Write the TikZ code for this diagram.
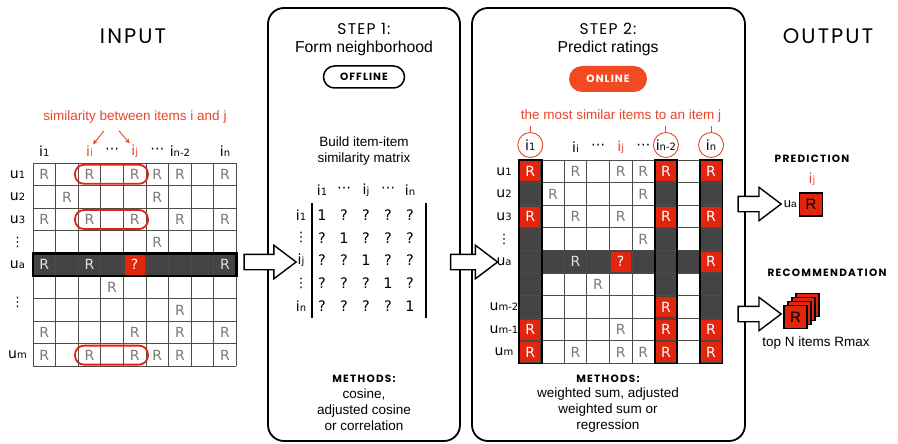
\documentclass[tikz,border=0pt]{standalone}
\usepackage{fontspec}
\setmainfont{Liberation Sans}
\newfontfamily\headfont{Poppins}
\newfontfamily\cellfont{DejaVu Sans}
\usepackage{xcolor}
\usetikzlibrary{arrows.meta,positioning,shapes.arrows}
\definecolor{hired}{HTML}{E2250C}
\definecolor{txtred}{HTML}{E8452C}
\definecolor{pillred}{HTML}{F24A22}
\definecolor{darkcell}{HTML}{444444}
\definecolor{rgray}{HTML}{7A7A7A}
\newcommand{\idx}[2]{#1{\fontsize{10}{10}\selectfont#2}}
\newcommand{\vd}{{\fontsize{13}{13}\selectfont ⋮}}
\newcommand{\hd}{{\fontsize{14}{14}\selectfont ⋯}}

\begin{document}
\begin{tikzpicture}[x=1pt, y=-1pt,
  bigtitle/.style={font=\headfont\addfontfeatures{LetterSpace=10}\fontsize{21}{24}\selectfont},
  stephead/.style={font=\headfont\addfontfeatures{LetterSpace=8}\fontsize{15.5}{18}\selectfont},
  smallhead/.style={font=\headfont\bfseries\addfontfeatures{LetterSpace=12}\fontsize{10.5}{12}\selectfont},
  plain/.style={font=\fontsize{15.8}{18}\selectfont},
  note/.style={font=\fontsize{13.5}{16}\selectfont, align=center},
  rednote/.style={note, text=txtred},
  panel/.style={draw, line width=1.8pt, rounded corners=16pt},
  pill/.style={draw, line width=1.5pt, rounded corners=11pt, minimum width=81pt, minimum height=22pt, inner sep=0pt, font=\headfont\bfseries\addfontfeatures{LetterSpace=10}\fontsize{10.5}{12}\selectfont},
  gridline/.style={draw=black!70, line width=0.7pt},
  lbl/.style={font=\cellfont\fontsize{14}{14}\selectfont, inner sep=1pt},
  entry/.style={font=\cellfont\fontsize{14.5}{15}\selectfont, inner sep=0pt},
  rmark/.style={font=\cellfont\fontsize{14}{14}\selectfont, text=rgray, inner sep=0pt},
  redr/.style={rmark, fill=hired, text=white, minimum size=20pt},
  pair/.style={draw=hired, line width=1.8pt, rounded corners=9pt, minimum width=73pt, minimum height=19pt},
  hcirc/.style={lbl, circle, draw=txtred, line width=0.9pt, minimum size=25pt, inner sep=0pt},
  outbox/.style={draw, line width=1.2pt, fill=hired, minimum size=23pt, inner sep=0pt, font=\fontsize{15}{15}\selectfont},
  bigarrow/.style={single arrow, draw, line width=1.4pt, fill=white, inner xsep=0pt, inner ysep=7pt, single arrow head extend=9pt, single arrow tip angle=74},
  redarrow/.style={-{Stealth[length=5pt,width=4.5pt]}, draw=txtred, line width=0.9pt}
]
\useasboundingbox (0,0) rectangle (898,444);

\node[bigtitle] (input) at (133,36) {INPUT};
\node[bigtitle] (output) at (828,36) {OUTPUT};

\node[panel, minimum width=192pt, minimum height=433pt] (step1) at (364,224.5) {};
\node[panel, minimum width=273pt, minimum height=433pt] (step2) at (608.5,224.5) {};

\fill[darkcell] (33,253.4) rectangle (236.4,276);
\foreach \k in {0,...,9} {
  \draw[gridline] ({33+22.6*\k},163) -- ({33+22.6*\k},366.4);
  \draw[gridline] (33,{163+22.6*\k}) -- (236.4,{163+22.6*\k});
}
\draw[line width=2.4pt] (33,253.4) rectangle (236.4,276);
\foreach \r/\cols in {1/{1,3,5,6,7,9},2/{2,6},3/{1,3,5,7,9},4/{6},6/{4},7/{7},8/{1,5,7,9},9/{1,3,5,6,7,9}}
  \foreach \c in \cols
    \node[rmark] (L-\r-\c) at ({22.6*\c+21.7},{22.6*\r+151.7}) {R};
\foreach \c in {1,3,9}
  \node[rmark, text=black!12] (L-5-\c) at ({22.6*\c+21.7},264.7) {R};
\node[redr] (L-5-5) at (134.7,264.7) {?};
\foreach \r in {1,3,9}
  \node[pair] (pair\r) at (111.5,{22.6*\r+151.7}) {};

\foreach \r/\t in {1/\idx{u}{1},2/\idx{u}{2},3/\idx{u}{3},4/\vd,5/\idx{u}{a},9/\idx{u}{m}}
  \node[lbl] (L-row\r) at (17.5,{22.6*\r+151.7}) {\t};
\node[lbl] (L-row7) at (17.5,302) {\vd};
\foreach \c/\t in {1/\idx{i}{1},4/\hd,6/\hd,7/\idx{i}{n-2},9/\idx{i}{n}}
  \node[lbl] (L-h\c) at ({22.6*\c+21.7},151) {\t};
\node[lbl, text=txtred] (L-h3) at (89.5,151) {\idx{i}{i}};
\node[lbl, text=txtred] (L-h5) at (134.7,151) {\idx{i}{j}};

\node[rednote] (simL) at (135,117) {similarity between items i and j};
\draw[redarrow] ([xshift=-31pt,yshift=-4pt]simL.south) -- ([xshift=3.5pt]L-h3.north);
\draw[redarrow] ([xshift=-16pt,yshift=-4pt]simL.south) -- ([xshift=-5pt]L-h5.north);

\node[stephead] (head1) at (364,29) {STEP 1:};
\node[plain] (sub1) at (364,48) {Form neighborhood};
\node[pill] (offline) at (364,77) {OFFLINE};
\node[note] (build) at (364,151) {Build item-item\\similarity matrix};
\foreach \c/\t in {1/\idx{i}{1},2/\hd,3/\idx{i}{j},4/\hd,5/\idx{i}{n}}
  \node[lbl] (S-h\c) at ({300+22*\c},190) {\t};
\foreach \r/\t in {1/\idx{i}{1},2/\vd,3/\idx{i}{j},4/\vd,5/\idx{i}{n}}
  \node[lbl] (S-r\r) at (301,{192.2+22.8*\r}) {\t};
\foreach \r in {1,...,5}
  \foreach \c in {1,...,5}
    \node[entry] (S-\r-\c) at ({300+22*\c},{192.2+22.8*\r}) {\ifnum\r=\c\relax 1\else ?\fi};
\draw[line width=2pt] (312,203) -- (312,318);
\draw[line width=2pt] (426,203) -- (426,318);
\node[smallhead] (meth1) at (364,379) {METHODS:};
\node[note] (list1) at (364,410) {cosine,\\adjusted cosine\\or correlation};

\node[stephead] (head2) at (608,29) {STEP 2:};
\node[plain] (sub2) at (608,48) {Predict ratings};
\node[pill, fill=pillred, draw=none, text=white, minimum width=78pt, minimum height=26pt, rounded corners=13pt] (online) at (608,79) {ONLINE};
\node[rednote] (simR) at (621,116) {the most similar items to an item j};

\foreach \c in {1,7,9}
  \fill[darkcell] ({519+22.6*(\c-1)},160) rectangle ++(22.6,203.4);
\fill[darkcell] (519,250.4) rectangle (722.4,273);
\foreach \k in {0,...,9} {
  \draw[gridline] ({519+22.6*\k},160) -- ({519+22.6*\k},363.4);
  \draw[gridline] (519,{160+22.6*\k}) -- (722.4,{160+22.6*\k});
}
\foreach \c in {1,7,9}
  \draw[line width=1.8pt] ({519+22.6*(\c-1)},160) rectangle ++(22.6,203.4);
\foreach \c/\rows in {1/{1,3,8,9},7/{1,3,7,8,9},9/{1,3,5,8,9}}
  \foreach \r in \rows
    \node[redr] (R-\r-\c) at ({22.6*\c+507.7},{22.6*\r+148.7}) {R};
\foreach \r/\cols in {1/{3,5,6},2/{2,6},3/{3,5},4/{6},6/{4},8/{5},9/{3,5,6}}
  \foreach \c in \cols
    \node[rmark] (R-\r-\c) at ({22.6*\c+507.7},{22.6*\r+148.7}) {R};
\node[rmark, text=black!12] (R-5-3) at (575.5,261.7) {R};
\node[redr] (R-5-5) at (620.7,261.7) {?};

\foreach \r/\t in {1/\idx{u}{1},2/\idx{u}{2},3/\idx{u}{3},4/\vd,5/\idx{u}{a},7/\idx{u}{m-2},8/\idx{u}{m-1},9/\idx{u}{m}}
  \node[lbl] (R-row\r) at (504,{22.6*\r+148.7}) {\t};
\node[hcirc] (R-h1) at (530.3,145) {\idx{i}{1}};
\node[hcirc] (R-h7) at (665.9,145) {\idx{i}{n-2}};
\node[hcirc] (R-h9) at (711.1,145) {\idx{i}{n}};
\foreach \c/\t in {3/\idx{i}{i},4/\hd,6/\hd}
  \node[lbl] (R-h\c) at ({22.6*\c+507.7},147) {\t};
\node[lbl, text=txtred] (R-h5) at (620.7,147) {\idx{i}{j}};
\foreach \c in {1,7,9}
  \draw[draw=txtred, line width=0.9pt] (simR.south -| R-h\c) -- (R-h\c.north);
\node[smallhead] (meth2) at (608,379) {METHODS:};
\node[note] (list2) at (608,410) {weighted sum, adjusted\\weighted sum or\\regression};

\node[smallhead] (pred) at (812,159) {PREDICTION};
\node[lbl, text=txtred] (predj) at (812,179) {\idx{i}{j}};
\node[outbox] (predR) at (811,204.5) {R};
\node[lbl, left=1pt of predR, font=\fontsize{13}{13}\selectfont] (predu) {\idx{u}{a}};
\node[smallhead] (rec) at (827,273) {RECOMMENDATION};
\foreach \k in {3,2,1}
  \node[outbox] (rec\k) at ({795.5+4*\k},{317-4*\k}) {};
\node[outbox] (rec0) at (795.5,317) {R};
\node[note] (topn) at (816,343) {top N items Rmax};

\node[bigarrow, minimum height=52pt] (arrIn) at (265,262) {};
\node[bigarrow, minimum height=47pt] (arrMid) at (469,262) {};
\node[bigarrow, minimum height=43pt] (arrPred) at (754.5,204) {};
\node[bigarrow, minimum height=43pt] (arrRec) at (754.5,314) {};
\end{tikzpicture}
\end{document}
